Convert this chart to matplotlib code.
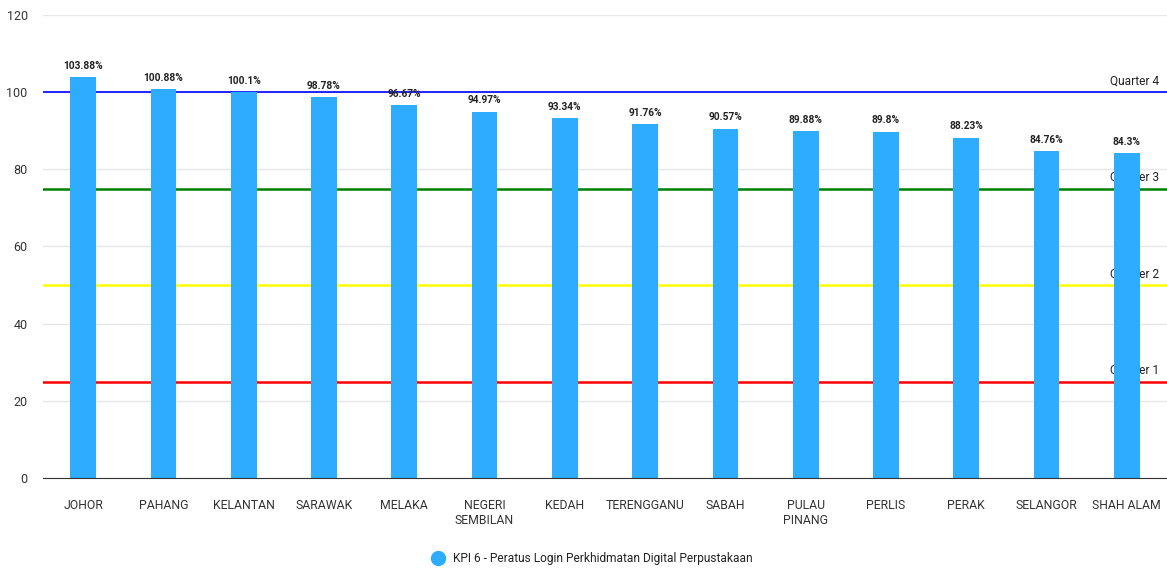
import numpy as np
import matplotlib.pyplot as plt
from matplotlib.lines import Line2D

states = ["JOHOR", "PAHANG", "KELANTAN", "SARAWAK", "MELAKA", "NEGERI\nSEMBILAN",
          "KEDAH", "TERENGGANU", "SABAH", "PULAU\nPINANG", "PERLIS", "PERAK",
          "SELANGOR", "SHAH ALAM"]
kpi = [103.88, 100.88, 100.1, 98.78, 96.67, 94.97, 93.34, 91.76, 90.57, 89.88,
       89.8, 88.23, 84.76, 84.3]
kpi_labels = ["103.88%", "100.88%", "100.1%", "98.78%", "96.67%", "94.97%", "93.34%",
              "91.76%", "90.57%", "89.88%", "89.8%", "88.23%", "84.76%", "84.3%"]
quarters = ["Quarter 1", "Quarter 2", "Quarter 3", "Quarter 4"]
quarter_vals = [25, 50, 75, 100]
quarter_colors = ["#ff0000", "#ffff00", "#008000", "#0000ff"]
legend_name = "KPI 6 - Peratus Login Perkhidmatan Digital Perpustakaan"

plt.rcParams['font.family'] = ['Roboto', 'DejaVu Sans']

fig = plt.figure(figsize=(11.67, 5.68), dpi=100)
ax = fig.add_axes([0.0368, 0.1585, 0.9632, 0.8151])

x = np.arange(len(states))
ax.set_xlim(-0.5, len(states) - 0.5)
ax.set_ylim(0, 120)

# quarter lines and labels (labels sit behind the bars)
for name, val, col in zip(quarters, quarter_vals, quarter_colors):
    ax.axhline(val, color=col, lw=1.8 if val != 100 else 1.2, zorder=2)
    ax.text(len(states) - 0.5 - 0.1, val + 1.2, name, ha='right', va='bottom',
            fontsize=8.6, color='#222222', zorder=1.5)

bars = ax.bar(x, kpi, width=0.32, color='#2eacff', zorder=3)
for xi, v, lab in zip(x, kpi, kpi_labels):
    ax.text(xi, v + 1.6, lab, ha='center', va='bottom', fontsize=7.3,
            fontweight='bold', color='#222222', zorder=4)

ax.set_yticks(np.arange(0, 121, 20))
ax.set_xticks(x)
ax.set_xticklabels(states, linespacing=1.25)
ax.tick_params(axis='both', length=0, labelcolor='#333333')
ax.tick_params(axis='x', pad=15, labelsize=8.8)
ax.tick_params(axis='y', pad=11, labelsize=9)
ax.grid(axis='y', color='#e6e6e6', lw=1, zorder=0)
for s in ['top', 'right', 'left']:
    ax.spines[s].set_visible(False)
ax.spines['bottom'].set_color('#333333')
ax.spines['bottom'].set_zorder(5)

handle = Line2D([], [], marker='o', ls='none', markersize=10, color='#2eacff')
fig.legend([handle], [legend_name], loc='center', bbox_to_anchor=(0.505, 0.017),
           frameon=False, fontsize=8.6, handletextpad=0.3, labelcolor='#222222')

fig.savefig('out.png', dpi=100)
